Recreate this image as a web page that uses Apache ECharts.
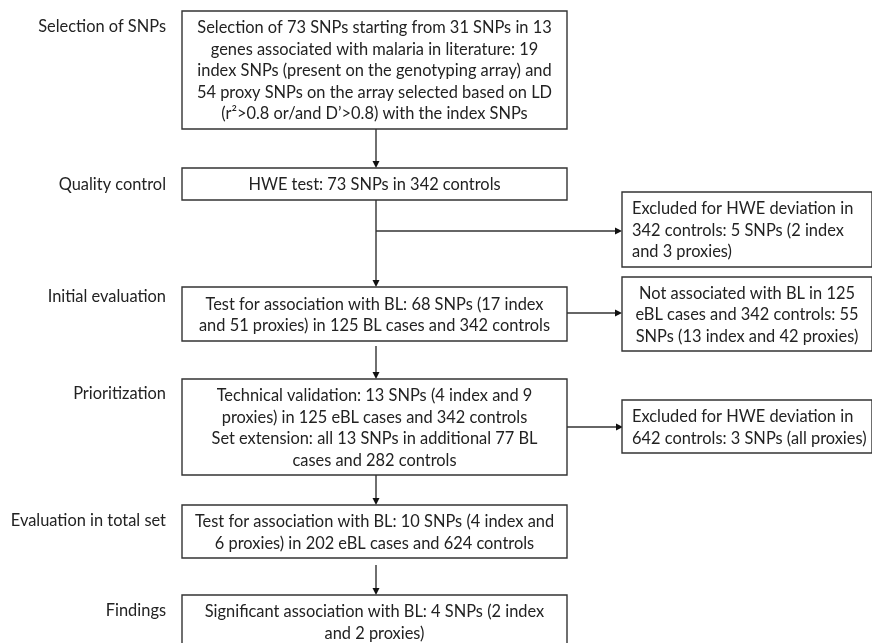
<!DOCTYPE html>
<html>
<head>
<meta charset="utf-8">
<script src="https://cdn.jsdelivr.net/npm/echarts@6/dist/echarts.min.js"></script>
<style>
  html, body { margin: 0; padding: 0; background: #fff; }
  #chart { width: 872px; height: 643px; }
</style>
</head>
<body>
<div id="chart"></div>
<script>
// stage names on the left
const stageLabels = [
  "Selection of SNPs",
  "Quality control",
  "Initial evaluation",
  "Prioritization",
  "Evaluation in total set",
  "Findings"
];

// text of the main boxes, one array of lines per box
const mainSteps = [
  ["Selection of 73 SNPs starting from 31 SNPs in 13",
   "genes associated with malaria in literature: 19",
   "index SNPs (present on the genotyping array) and",
   "54 proxy SNPs on the array selected based on LD",
   "(r\u00b2>0.8 or/and D\u2019>0.8) with the index SNPs"],
  ["HWE test: 73 SNPs in 342 controls"],
  ["Test for association with BL: 68 SNPs (17 index",
   "and 51 proxies) in 125 BL cases and 342 controls"],
  ["Technical validation: 13 SNPs (4 index and 9",
   "proxies) in 125 eBL cases and 342 controls",
   "Set extension: all 13 SNPs in additional 77 BL",
   "cases and 282 controls"],
  ["Test for association with BL: 10 SNPs (4 index and",
   "6 proxies) in 202 eBL cases and 624 controls"],
  ["Significant association with BL: 4 SNPs (2 index",
   "and 2 proxies)"]
];

// text of the boxes on the right
const sideSteps = [
  ["Excluded for HWE deviation in",
   "342 controls: 5 SNPs (2 index",
   "and 3 proxies)"],
  ["Not associated with BL in 125",
   "eBL cases and 342 controls: 55",
   "SNPs (13 index and 42 proxies)"],
  ["Excluded for HWE deviation in",
   "642 controls: 3 SNPs (all proxies)"]
];

// ---- layout (page units, y grows downward) ----
const mainBoxY = [[11, 129], [168, 200], [287, 341], [379, 475], [505, 558], [595, 648]];
const mainX = [182, 567];
const trunkX = 376;
const sideBoxY = [[192, 267], [277, 351], [400, 453]];
const sideX = [622, 872];
const sideAlign = ["left", "center", "left"];
const labelY = [26, 184, 296, 393, 520, 610];
const labelRight = 166;
// vertical arrows between main boxes [fromY, toY]
const downArrows = [[129, 168], [200, 287], [346, 379], [475, 505], [565, 595]];
// horizontal arrows to the right boxes [fromX, y, toX]
const sideArrows = [[trunkX, 231, 622], [567, 313, 622], [567, 427, 623]];

const FONT = "16.4px Lato, 'Noto Sans', sans-serif";
const LINE_H = 21.5;
const TEXT_COLOR = "#222";
const LINE_COLOR = "#333";

var chartDom = document.getElementById("chart");
var myChart = echarts.init(chartDom, null, { renderer: "canvas" });

function boxItem(api, x0, x1, y0, y1, lines, align) {
  var p0 = api.coord([x0, y0]);
  var p1 = api.coord([x1, y1]);
  var tx = align === "left" ? p0[0] + 10 : (p0[0] + p1[0]) / 2;
  var midY = (api.coord([x0, y0])[1] + api.coord([x0, Math.min(y1, y0 + (lines.length * LINE_H) + 14)])[1]) / 2;
  return {
    type: "group",
    children: [
      {
        type: "rect",
        shape: { x: p0[0], y: p0[1], width: p1[0] - p0[0], height: p1[1] - p0[1] },
        style: { fill: "#fff", stroke: LINE_COLOR, lineWidth: 1.4 }
      },
      {
        type: "text",
        x: tx,
        y: midY + 1,
        style: {
          text: lines.join("\n"),
          font: FONT,
          fill: TEXT_COLOR,
          align: align,
          verticalAlign: "middle",
          lineHeight: LINE_H
        }
      }
    ]
  };
}

function arrowItem(api, a, b) {
  var p0 = api.coord(a);
  var p1 = api.coord(b);
  var dx = p1[0] - p0[0], dy = p1[1] - p0[1];
  var len = Math.sqrt(dx * dx + dy * dy);
  var ux = dx / len, uy = dy / len;
  var hl = 7, hw = 3.5;
  var bx = p1[0] - ux * hl, by = p1[1] - uy * hl;
  return {
    type: "group",
    children: [
      {
        type: "line",
        shape: { x1: p0[0], y1: p0[1], x2: bx, y2: by },
        style: { stroke: LINE_COLOR, lineWidth: 1.4 }
      },
      {
        type: "polygon",
        shape: { points: [[p1[0], p1[1]], [bx - uy * hw, by + ux * hw], [bx + uy * hw, by - ux * hw]] },
        style: { fill: "#111" }
      }
    ]
  };
}

var option = {
  animation: false,
  grid: { left: 0, right: 0, top: 0, bottom: 0 },
  xAxis: { type: "value", min: 0, max: 872, show: false },
  yAxis: { type: "value", min: 0, max: 643, inverse: true, show: false },
  series: [
    {
      // connectors
      type: "custom",
      silent: true,
      clip: false,
      data: downArrows.map(function (d, i) { return [i]; }).concat([[100]]),
      renderItem: function (params, api) {
        var i = params.dataIndex;
        if (i < downArrows.length) {
          var d = downArrows[i];
          return arrowItem(api, [trunkX, d[0]], [trunkX, d[1]]);
        }
        return {
          type: "group",
          children: sideArrows.map(function (s) {
            return arrowItem(api, [s[0], s[1]], [s[2], s[1]]);
          })
        };
      }
    },
    {
      // main boxes
      type: "custom",
      silent: true,
      clip: false,
      data: mainSteps.map(function (d, i) { return [i]; }),
      renderItem: function (params, api) {
        var i = params.dataIndex;
        return boxItem(api, mainX[0], mainX[1], mainBoxY[i][0], mainBoxY[i][1], mainSteps[i], "center");
      }
    },
    {
      // right boxes
      type: "custom",
      silent: true,
      clip: false,
      data: sideSteps.map(function (d, i) { return [i]; }),
      renderItem: function (params, api) {
        var i = params.dataIndex;
        return boxItem(api, sideX[0], sideX[1], sideBoxY[i][0], sideBoxY[i][1], sideSteps[i], sideAlign[i]);
      }
    },
    {
      // stage labels
      type: "custom",
      silent: true,
      clip: false,
      data: stageLabels.map(function (d, i) { return [i]; }),
      renderItem: function (params, api) {
        var i = params.dataIndex;
        var p = api.coord([labelRight, labelY[i]]);
        return {
          type: "text",
          x: p[0],
          y: p[1] + 1,
          style: {
            text: stageLabels[i],
            font: FONT,
            fill: TEXT_COLOR,
            align: "right",
            verticalAlign: "middle"
          }
        };
      }
    }
  ]
};

option && myChart.setOption(option);
</script>
</body>
</html>
